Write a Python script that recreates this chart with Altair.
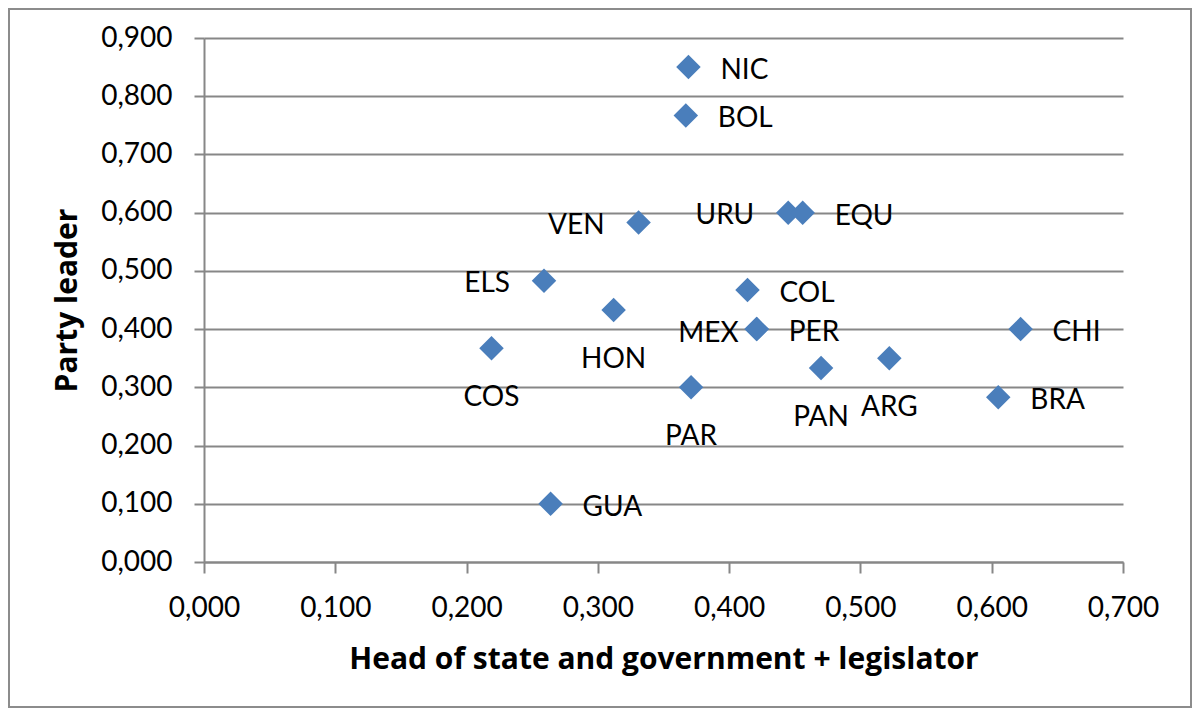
import altair as alt
import pandas as pd

# ---- data ----
countries = ["NIC", "BOL", "VEN", "URU", "EQU", "ELS", "COL", "HON", "MEX",
             "PER", "CHI", "COS", "PAR", "PAN", "ARG", "BRA", "GUA"]
head_legislator = [0.369, 0.367, 0.331, 0.445, 0.456, 0.259, 0.414, 0.312, 0.421,
                   0.421, 0.622, 0.219, 0.371, 0.470, 0.522, 0.605, 0.264]
party_leader = [0.850, 0.767, 0.583, 0.600, 0.600, 0.483, 0.467, 0.433, 0.400,
                0.400, 0.400, 0.367, 0.300, 0.333, 0.350, 0.283, 0.100]
x_ticks = [0.0, 0.1, 0.2, 0.3, 0.4, 0.5, 0.6, 0.7]
y_ticks = [0.0, 0.1, 0.2, 0.3, 0.4, 0.5, 0.6, 0.7, 0.8, 0.9]

# label placement (like Excel's data-label positions)
placement = {
    "NIC": "right", "BOL": "right", "EQU": "right", "COL": "right", "PER": "right",
    "CHI": "right", "BRA": "right", "GUA": "right",
    "VEN": "left", "URU": "left", "ELS": "left",
    "MEX": "left_near",
    "HON": "below", "COS": "below", "PAR": "below", "PAN": "below", "ARG": "below",
}

df = pd.DataFrame({"country": countries, "hsl": head_legislator, "pl": party_leader})
df["pos"] = df["country"].map(placement)

W, H = 919, 524
GRAY = "#878787"
BLUE = "#4A7EBB"
FONT = "Lato"
TFONT = "Open Sans"
comma_fmt = "replace(format(datum.value, '.3f'), '.', ',')"

x_enc = alt.X("hsl:Q",
              scale=alt.Scale(domain=[0, 0.7], nice=False, zero=True),
              axis=alt.Axis(values=x_ticks, labelExpr=comma_fmt, grid=False,
                            domainColor=GRAY, domainWidth=2, tickColor=GRAY, tickWidth=2,
                            tickSize=11, labelFont=FONT, labelFontSize=28, labelColor="black",
                            labelPadding=21, labelFlush=False, labelOverlap=False,
                            title="Head of state and government + legislator",
                            titleFont=TFONT, titleFontSize=30, titleFontWeight="bold",
                            titleColor="black", titleY=106, titleBaseline="alphabetic"))
y_enc = alt.Y("pl:Q",
              scale=alt.Scale(domain=[0, 0.9], nice=False, zero=True),
              axis=alt.Axis(values=y_ticks, labelExpr=comma_fmt, grid=True,
                            gridColor=GRAY, gridWidth=2, domainColor=GRAY, domainWidth=2,
                            tickColor=GRAY, tickWidth=2, tickSize=10,
                            labelFont=FONT, labelFontSize=28, labelColor="black",
                            labelPadding=22, labelOverlap=False,
                            title="Party leader", titleFont=TFONT, titleFontSize=30,
                            titleFontWeight="bold", titleColor="black", titleAngle=270,
                            titleX=-128, titleY=H / 2, titleAlign="center",
                            titleBaseline="alphabetic"))

base = alt.Chart(df)

points = base.mark_point(shape="diamond", filled=True, size=600, color=BLUE,
                         opacity=1).encode(x=x_enc, y=y_enc)

offsets = {
    "right": dict(dx=32, dy=4, align="left"),
    "left": dict(dx=-34, dy=3, align="right"),
    "left_near": dict(dx=-18, dy=5, align="right"),
    "below": dict(dx=0, dy=50, align="center"),
}

label_layers = []
for pos, opts in offsets.items():
    label_layers.append(
        base.transform_filter(alt.datum.pos == pos)
        .mark_text(font=FONT, fontSize=28, color="black", baseline="middle", **opts)
        .encode(x="hsl:Q", y="pl:Q", text="country:N")
    )

border = alt.Chart(pd.DataFrame({"a": [0]})).mark_rect(
    filled=False, stroke="#8C8C8C", strokeWidth=2
).encode(x=alt.value(-195), x2=alt.value(W + 68), y=alt.value(-29), y2=alt.value(H + 145))

chart = alt.layer(points, *label_layers, border).properties(
    width=W, height=H,
    autosize=alt.AutoSizeParams(type="none"),
    padding={"left": 196, "top": 30, "right": 69, "bottom": 146},
    background="white",
).configure_view(stroke=None)

chart.save("out.html", embed_options={"renderer": "svg", "actions": False})
